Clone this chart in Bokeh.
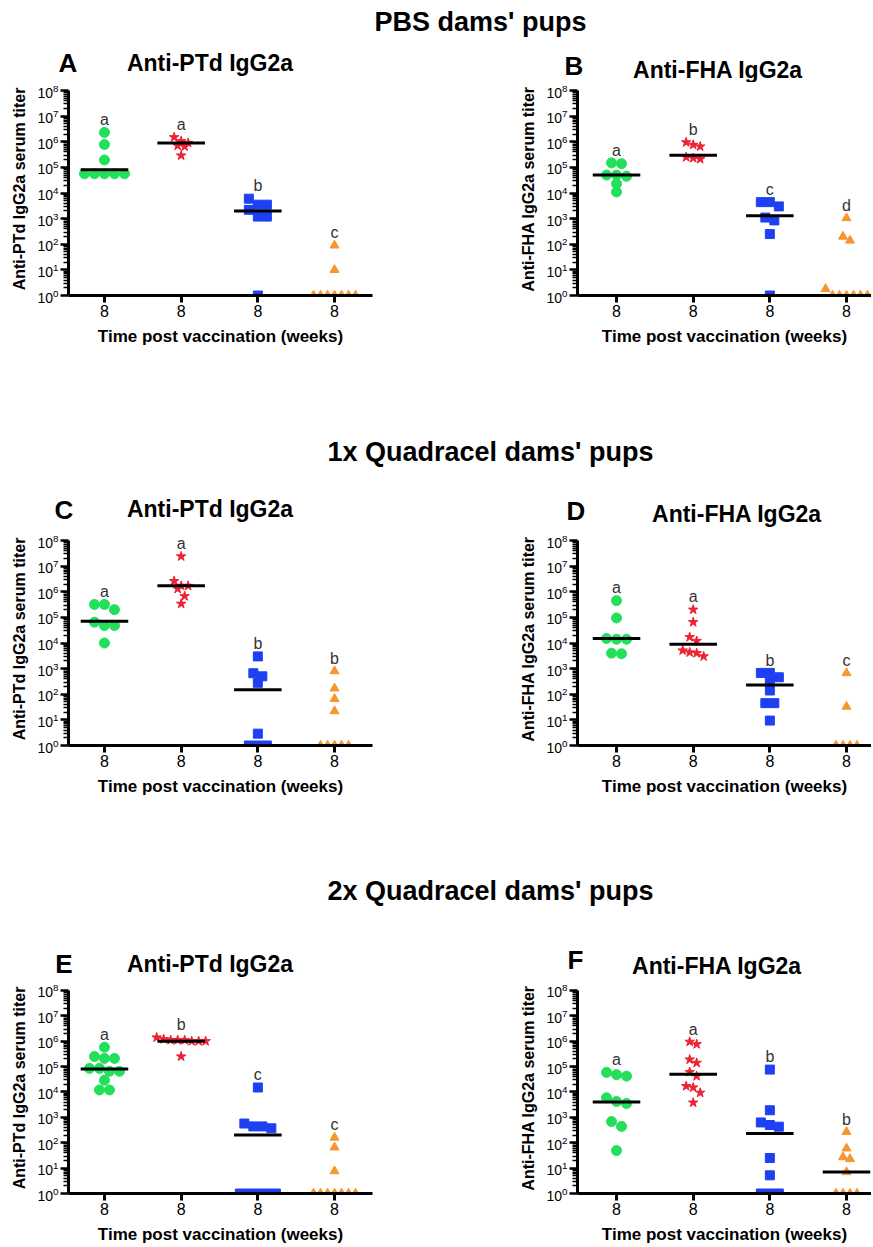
import numpy as np
from bokeh.plotting import figure
from bokeh.models import Range1d, FixedTicker
from bokeh.layouts import column, row
from bokeh.embed import file_html
from bokeh.resources import INLINE
from bokeh.core.properties import value

FONT = "Liberation Sans"

# ---------------- data ----------------
categories = [1, 2, 3, 4]
tick_labels = ["8", "8", "8", "8"]
x_title = "Time post vaccination (weeks)"
section_titles = ["PBS dams' pups", "1x Quadracel dams' pups", "2x Quadracel dams' pups"]
panel_letters = ["A", "B", "C", "D", "E", "F"]
panel_titles = ["Anti-PTd IgG2a", "Anti-FHA IgG2a"] * 3
y_titles = ["Anti-PTd IgG2a serum titer", "Anti-FHA IgG2a serum titer"] * 3

# panel A
A_green = [2.3e6, 7.8e5, 1.95e5, 5.6e4, 5.6e4, 5.6e4, 5.6e4, 5.6e4]
A_red = [1.5e6, 1.05e6, 9e5, 7e5, 6.5e5, 2.9e5]
A_blue = [6e3, 3.5e3, 3.5e3, 2.2e3, 1.2e3, 1.2e3, 1]
A_orange = [90, 10, 1, 1, 1, 1, 1, 1, 1]
A_median = [8e4, 9e5, 2e3, 1]
A_letters = ["a", "a", "b", "c"]
# panel B
B_green = [1.5e5, 1.4e5, 5e4, 5e4, 4.5e4, 2.3e4, 1.1e4]
B_red = [9.5e5, 7.6e5, 6.5e5, 2.5e5, 2.3e5, 2.1e5]
B_blue = [4.4e3, 4.4e3, 3e3, 1.1e3, 8.5e2, 2.5e2, 1]
B_orange = [1.05e3, 2e2, 1.4e2, 1.8, 1, 1, 1, 1, 1, 1]
B_median = [5e4, 3e5, 1.3e3, 1]
B_letters = ["a", "b", "c", "d"]
# panel C
C_green = [3.2e5, 3.2e5, 2e5, 6.5e4, 4.8e4, 4.8e4, 1e4]
C_red = [2.4e7, 2.6e6, 1.7e6, 1.7e6, 1.3e6, 6.7e5, 3.4e5]
C_blue = [3e3, 6.6e2, 5e2, 2.8e2, 2.9, 1, 1, 1]
C_orange = [8e2, 1.7e2, 66, 22, 1, 1, 1, 1, 1]
C_median = [7e4, 1.7e6, 1.5e2, 1]
C_letters = ["a", "a", "b", "b"]
# panel D
D_green = [4.5e5, 9.5e4, 1.5e4, 1.4e4, 1.4e4, 4e3, 3.8e3]
D_red = [2e5, 6.5e4, 1.7e4, 1.2e4, 5.1e3, 4.3e3, 4e3, 3e3]
D_blue = [6.8e2, 6.8e2, 4.6e2, 3.2e2, 1.4e2, 45, 45, 9.4]
D_orange = [6.7e2, 33, 1, 1, 1, 1]
D_median = [1.5e4, 9e3, 2.3e2, 1]
D_letters = ["a", "a", "b", "c"]
# panel E
E_green = [5.8e5, 2.5e5, 2.1e5, 2.1e5, 8.5e4, 8.5e4, 6.5e4, 6.5e4, 2.9e4, 1.2e4, 1.2e4]
E_red = [1.4e6, 1.2e6, 1.1e6, 1.1e6, 1.1e6, 1e6, 1e6, 1e6, 2.5e5]
E_blue = [1.5e4, 5.7e2, 4.4e2, 4.4e2, 3.7e2, 1, 1, 1, 1, 1]
E_orange = [1.6e2, 66, 7.6, 1, 1, 1, 1, 1, 1, 1]
E_median = [8e4, 1e6, 2e2, 1]
E_letters = ["a", "b", "c", "c"]
# panel F
F_green = [5.9e4, 4.8e4, 4.2e4, 5.9e3, 4.2e3, 3.5e3, 6.8e2, 4.4e2, 49]
F_red = [9.5e5, 7.6e5, 1.9e5, 1.4e5, 6.1e4, 4.2e4, 1.7e4, 1.5e4, 9.3e3, 3.8e3]
F_blue = [7.6e4, 1.9e3, 6.3e2, 5e2, 4.3e2, 25, 5.2, 1, 1, 1]
F_orange = [2.7e2, 60, 27, 23, 7, 1, 1, 1, 1]
F_median = [4e3, 5e4, 2.3e2, 7]
F_letters = ["a", "a", "b", "b"]

panels = [
    ([A_green, A_red, A_blue, A_orange], A_median, A_letters),
    ([B_green, B_red, B_blue, B_orange], B_median, B_letters),
    ([C_green, C_red, C_blue, C_orange], C_median, C_letters),
    ([D_green, D_red, D_blue, D_orange], D_median, D_letters),
    ([E_green, E_red, E_blue, E_orange], E_median, E_letters),
    ([F_green, F_red, F_blue, F_orange], F_median, F_letters),
]

# ---------------- styles / layout ----------------
SERIES_STYLE = [
    dict(marker="circle", color="#22e05a", size=10, spacing=10),
    dict(marker="star", color="#ee2233", size=10, spacing=7),
    dict(marker="square", color="#1e40f0", size=9, spacing=9),
    dict(marker="triangle", color="#f7952e", size=9, spacing=7),
]
PX_PER_UNIT = 76.7
ROW_TOL = 0.3           # decades grouped into one swarm row
FRAME_H = 213
DECADE_PX = 205 / 8.0
Y_TOP = FRAME_H / DECADE_PX
PAGE_W = 871

LEFT = dict(width=470, mbl=68, mbr=98, x0=0.531, x1=4.495)
RIGHT = dict(width=401, mbl=107, mbr=0, x0=0.491, x1=4.326)
ROWS = [dict(h=338, mbb=125), dict(h=338, mbb=125), dict(h=264, mbb=51)]

# header strips: section title + panel letters + panel titles (page pixel coords inside each strip)
HEADERS = [
    dict(h=82, sec=(480, 21),
         items=[("A", 67.5, 62, 26), ("Anti-PTd IgG2a", 209.5, 62.5, 23),
                ("B", 573.5, 65, 26), ("Anti-FHA IgG2a", 717.5, 69, 23)]),
    dict(h=112, sec=(490, 31),
         items=[("C", 63.5, 89, 26), ("Anti-PTd IgG2a", 209.5, 88.5, 23),
                ("D", 575.5, 90.5, 26), ("Anti-FHA IgG2a", 736.5, 93.5, 23)]),
    dict(h=112, sec=(490, 20),
         items=[("E", 63.5, 93.5, 26), ("Anti-PTd IgG2a", 209.5, 93.5, 23),
                ("F", 575, 89.5, 26), ("Anti-FHA IgG2a", 716.5, 95, 23)]),
]


def swarm(vals, spacing_px):
    logs = np.log10(np.asarray(vals, dtype=float))
    order = np.argsort(-logs, kind="stable")
    rows_, cur = [], []
    for i in order:
        if cur and logs[cur[0]] - logs[i] > ROW_TOL:
            rows_.append(cur)
            cur = []
        cur.append(i)
    rows_.append(cur)
    off = np.zeros(len(logs))
    for r in rows_:
        for j, i in enumerate(r):
            off[i] = (j - (len(r) - 1) / 2.0) * spacing_px / PX_PER_UNIT
    return off


def make_header(r):
    hd = HEADERS[r]
    h = hd["h"]
    p = figure(width=PAGE_W, height=h, x_range=Range1d(0, PAGE_W), y_range=Range1d(h, 0),
               toolbar_location=None, output_backend="svg", min_border=0,
               x_axis_location=None, y_axis_location=None)
    p.grid.visible = False
    p.outline_line_color = None
    sx, sy = hd["sec"]
    p.text(x=[sx], y=[sy], text=[section_titles[r]], text_font=value(FONT), text_font_style="bold",
           text_font_size="27px", text_align="center", text_baseline="middle", text_color="black")
    for txt, x, y, fs in hd["items"]:
        p.text(x=[x], y=[y], text=[txt], text_font=value(FONT), text_font_style="bold",
               text_font_size=f"{fs}px", text_align="center", text_baseline="middle",
               text_color="black")
    return p


def make_panel(idx, side, rowcfg):
    groups, medians, letters = panels[idx]
    p = figure(width=side["width"], height=rowcfg["h"], y_axis_type="log",
               x_range=Range1d(side["x0"], side["x1"]), y_range=Range1d(1, 10 ** Y_TOP),
               toolbar_location=None, output_backend="svg",
               min_border_left=side["mbl"], min_border_right=side["mbr"],
               min_border_top=0, min_border_bottom=rowcfg["mbb"])
    p.grid.visible = False
    p.outline_line_color = None

    tops = []
    for k, (vals, st) in enumerate(zip(groups, SERIES_STYLE)):
        xs = categories[k] + swarm(vals, st["spacing"])
        p.scatter(x=xs, y=vals, marker=st["marker"], size=st["size"],
                  fill_color=st["color"], line_color=st["color"])
        tops.append(max(vals) * 10 ** 0.5)

    cats = np.array(categories, dtype=float)
    p.segment(x0=cats - 0.31, y0=medians, x1=cats + 0.31, y1=medians,
              line_color="black", line_width=3)
    p.text(x=categories, y=tops, text=letters, text_font=value(FONT), text_font_size="16px",
           text_color="#333333", text_align="center", text_baseline="middle")

    # x axis
    xa = p.xaxis[0]
    xa.ticker = FixedTicker(ticks=categories)
    xa.major_label_overrides = {c: t for c, t in zip(categories, tick_labels)}
    xa.axis_line_width = 3
    xa.major_tick_line_width = 3
    xa.major_tick_out = 7
    xa.major_tick_in = 0
    xa.minor_tick_line_color = None
    xa.major_label_text_font = FONT
    xa.major_label_text_font_size = "16px"
    xa.major_label_text_color = "black"
    xa.major_label_standoff = 2
    xa.axis_label = x_title
    xa.axis_label_text_font = FONT
    xa.axis_label_text_font_style = "bold"
    xa.axis_label_text_font_size = "17px"
    xa.axis_label_text_color = "black"
    xa.axis_label_standoff = 7

    # y axis
    ya = p.yaxis[0]
    ya.ticker = FixedTicker(ticks=[10 ** k for k in range(9)],
                            minor_ticks=[m * 10 ** k for k in range(8) for m in range(2, 10)])
    ya.bounds = (1, 1e8)
    ya.axis_line_width = 3
    ya.major_tick_out = 8
    ya.major_tick_in = 0
    ya.major_tick_line_width = 2.5
    ya.minor_tick_out = 5
    ya.minor_tick_in = 0
    ya.minor_tick_line_width = 1.5
    ya.major_label_text_font = FONT
    ya.major_label_text_font_size = "14px"
    ya.major_label_text_color = "black"
    ya.major_label_standoff = 2
    ya.axis_label = y_titles[idx]
    ya.axis_label_text_font = FONT
    ya.axis_label_text_font_style = "bold"
    ya.axis_label_text_font_size = "16px"
    ya.axis_label_text_color = "black"
    ya.axis_label_standoff = 6
    return p


items = []
for r in range(3):
    items.append(make_header(r))
    items.append(row(make_panel(2 * r, LEFT, ROWS[r]), make_panel(2 * r + 1, RIGHT, ROWS[r])))

layout = column(*items)
open("out.html", "w").write(file_html(layout, INLINE))
